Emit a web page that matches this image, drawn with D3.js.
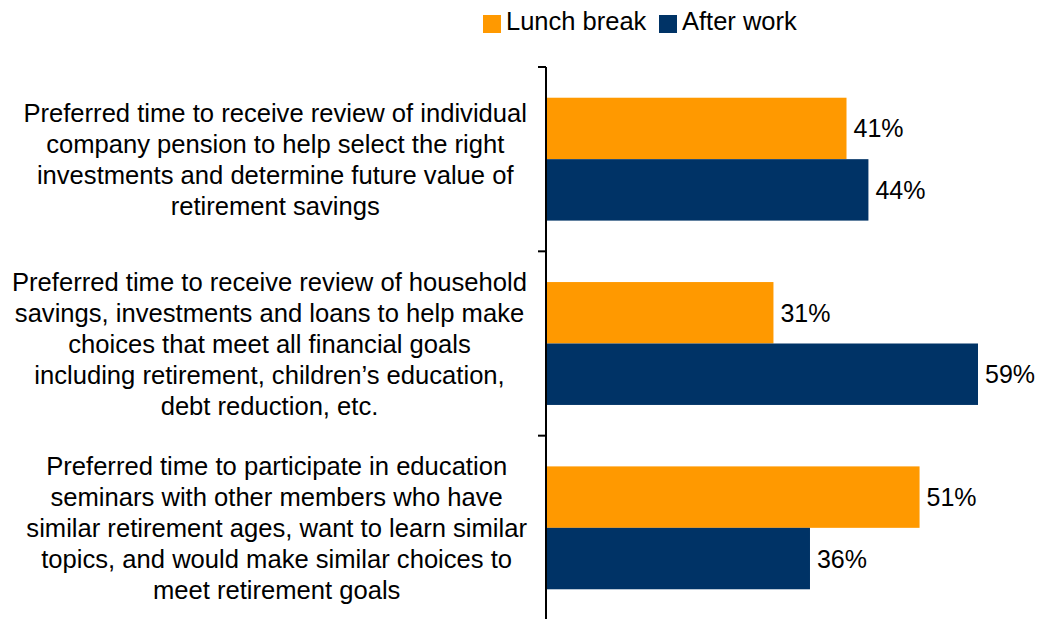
<!DOCTYPE html>
<html>
<head>
<meta charset="utf-8">
<script src="https://cdn.jsdelivr.net/npm/d3@7"></script>
<style>
  html, body { margin: 0; padding: 0; background: #fff; }
  svg { display: block; font-family: "Liberation Sans", Arial, sans-serif; }
</style>
</head>
<body>
<svg id="chart" width="1045" height="619"></svg>
<script>
// Category labels, one array of wrapped lines per question
const categories = [
  ["Preferred time to receive review of individual",
   "company pension to help select the right",
   "investments and determine future value of",
   "retirement savings"],
  ["Preferred time to receive review of household",
   "savings, investments and loans to help make",
   "choices that meet all financial goals",
   "including retirement, children\u2019s education,",
   "debt reduction, etc."],
  ["Preferred time to participate in education",
   "seminars with other members who have",
   "similar retirement ages, want to learn similar",
   "topics, and would make similar choices to",
   "meet retirement goals"]
];
const seriesNames = ["Lunch break", "After work"];
const lunchBreak = [41, 31, 51];
const afterWork = [44, 59, 36];
const seriesColors = ["#FF9900", "#003366"];

const svg = d3.select("#chart");
const fontSize = 25;
const labelFontSize = 25.6;
const lineHeight = 31.1;

const ids = categories.map((_, i) => i);
const rows = ids.map(i => ({ i, values: [lunchBreak[i], afterWork[i]] }));

const y = d3.scaleBand().domain(ids).range([67, 620]).paddingInner(0).paddingOuter(0);
const ySeries = d3.scaleBand().domain([0, 1]).range([0, y.bandwidth()]).paddingInner(0).paddingOuter(0.5);
const x = d3.scaleLinear().domain([0, 59]).range([547, 978]);

// Bars
const groups = svg.selectAll("g.group").data(rows).join("g")
  .attr("class", "group")
  .attr("transform", d => `translate(0,${y(d.i)})`);

groups.selectAll("rect").data(d => d.values.map((v, s) => ({ v, s }))).join("rect")
  .attr("x", x(0))
  .attr("y", d => ySeries(d.s))
  .attr("width", d => x(d.v) - x(0))
  .attr("height", ySeries.bandwidth())
  .attr("fill", d => seriesColors[d.s]);

// Value labels
groups.selectAll("text.val").data(d => d.values.map((v, s) => ({ v, s }))).join("text")
  .attr("class", "val")
  .attr("x", d => x(d.v) + 7)
  .attr("y", d => ySeries(d.s) + ySeries.bandwidth() / 2)
  .attr("dy", "0.36em")
  .attr("font-size", fontSize)
  .attr("fill", "#000")
  .text(d => d.v + "%");

// Category axis: vertical line with ticks at band boundaries
const axisX = 546;
svg.append("line")
  .attr("x1", axisX).attr("x2", axisX)
  .attr("y1", y.range()[0]).attr("y2", y.range()[1])
  .attr("stroke", "#000").attr("stroke-width", 2);
const bounds = ids.map(i => y(i)).concat([y.range()[1]]);
svg.selectAll("line.tick").data(bounds).join("line")
  .attr("class", "tick")
  .attr("x1", axisX - 8).attr("x2", axisX)
  .attr("y1", d => d).attr("y2", d => d)
  .attr("stroke", "#000").attr("stroke-width", 2);

// Category labels: centred blocks whose widest line ends near the axis
const labelRight = 527;
categories.forEach((lines, i) => {
  const g = svg.append("g");
  const t = g.append("text")
    .attr("font-size", labelFontSize)
    .attr("fill", "#000")
    .attr("text-anchor", "middle");
  const cy = y(i) + y.bandwidth() / 2;
  const first = cy - (lines.length - 1) * lineHeight / 2;
  const spans = lines.map((ln, k) => t.append("tspan")
    .attr("y", first + k * lineHeight)
    .attr("dy", "0.36em")
    .text(ln));
  const maxW = d3.max(spans, s => s.node().getComputedTextLength());
  spans.forEach(s => s.attr("x", labelRight - maxW / 2));
});

// Legend
const legendItems = [
  { name: seriesNames[0], color: seriesColors[0], x: 483 },
  { name: seriesNames[1], color: seriesColors[1], x: 659 }
];
const lg = svg.selectAll("g.legend").data(legendItems).join("g")
  .attr("class", "legend")
  .attr("transform", d => `translate(${d.x},0)`);
lg.append("rect").attr("x", 0).attr("y", 15).attr("width", 18).attr("height", 18)
  .attr("fill", d => d.color);
lg.append("text").attr("x", 23).attr("y", 30)
  .attr("font-size", 25.5).attr("fill", "#000")
  .text(d => d.name);
</script>
</body>
</html>
